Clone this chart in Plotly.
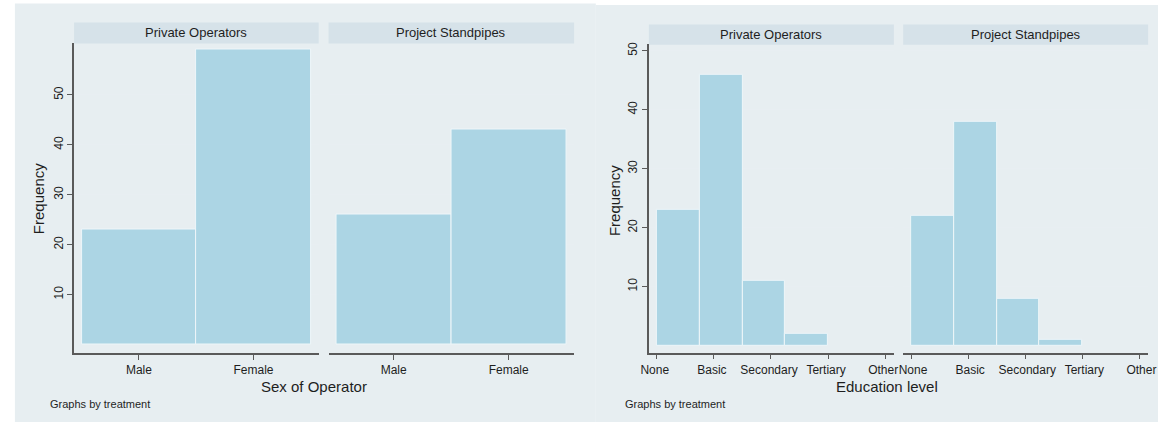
import plotly.graph_objects as go

# ---- data -------------------------------------------------------------
panel_titles = ["Private Operators", "Project Standpipes"]

sex_labels = ["Male", "Female"]
sex_codes = [0, 1]
sex_private = [23, 59]
sex_standpipes = [26, 43]

edu_labels = ["None", "Basic", "Secondary", "Tertiary", "Other"]
edu_codes = [1, 2, 3, 4, 5]
edu_bin_edges = [1.0, 1.75, 2.5, 3.25, 4.0]
edu_private = [23, 46, 11, 2]
edu_standpipes = [22, 38, 8, 1]

freq_ticks = [10, 20, 30, 40, 50]

# ---- styling ----------------------------------------------------------
W, H = 1166, 423
BG = "#e7eef1"
STRIP = "#d6e2e9"
BAR = "#acd5e4"
BAR_EDGE = "#eef6f9"
AXIS = "#5a5a5a"
GRID = "#e8eef2"
FONT = "Liberation Sans, Arial, sans-serif"
TXT = "#1e1e1e"


def px_x(v):
    return v / W


def px_y(v):
    return 1 - v / H


fig = go.Figure()

edu_centers = [(a + b) / 2 for a, b in zip(edu_bin_edges[:-1], edu_bin_edges[1:])]
edu_widths = [b - a for a, b in zip(edu_bin_edges[:-1], edu_bin_edges[1:])]

traces = [
    ("x", "y", sex_codes, sex_private, [1] * len(sex_codes)),
    ("x2", "y2", sex_codes, sex_standpipes, [1] * len(sex_codes)),
    ("x3", "y3", edu_centers, edu_private, edu_widths),
    ("x4", "y4", edu_centers, edu_standpipes, edu_widths),
]
for xa, ya, xs, ys, ws in traces:
    fig.add_trace(go.Bar(
        x=xs, y=ys, width=ws, xaxis=xa, yaxis=ya,
        marker=dict(color=BAR, line=dict(color=BAR_EDGE, width=1)),
        showlegend=False, hoverinfo="x+y",
    ))

# panel geometry in pixels: (left, right, top, bottom)
panels = {
    1: (67, 315, 40.7, 353),
    2: (325, 574, 40.7, 353),
    3: (649.8, 898.2, 42, 352.3),
    4: (907.6, 1156, 42, 352.3),
}
# the two education panels sit close together, so their end labels are
# nudged apart a little
label_shift = {1: 0, 2: 0, 3: -2, 4: 2}

tickfont = dict(family=FONT, size=12, color=TXT)
layout_axes = {}
for i, (l, r, t, b) in panels.items():
    sfx = "" if i == 1 else str(i)
    if i <= 2:
        xr = [-0.566, 1.569]
        xtv, xtt = sex_codes, sex_labels
        yr = [-1.75, 60.5]
    else:
        xr = [0.862, 5.152]
        xtv, xtt = edu_codes, edu_labels
        yr = [-1.19, 51.18]
    first = i in (1, 3)
    layout_axes["xaxis" + sfx] = dict(
        domain=[px_x(l), px_x(r)], anchor="y" + sfx, range=xr,
        tickvals=xtv, ticktext=xtt, ticks="outside", ticklen=5,
        tickwidth=1.2, tickcolor=AXIS, showline=True, linecolor=AXIS,
        linewidth=1.5, showgrid=False, zeroline=False, tickfont=tickfont,
        ticklabelshift=label_shift[i], fixedrange=True,
    )
    layout_axes["yaxis" + sfx] = dict(
        domain=[px_y(b), px_y(t)], anchor="x" + sfx, range=yr,
        tickvals=freq_ticks, ticks="outside" if first else "", ticklen=5,
        tickwidth=1.2, tickcolor=AXIS, showticklabels=first,
        tickangle=-90, showline=first, linecolor=AXIS, linewidth=1.5,
        showgrid=True, gridcolor=GRID, gridwidth=1, zeroline=False,
        tickfont=tickfont, fixedrange=True,
    )

shapes = [
    # graph backgrounds
    dict(type="rect", xref="paper", yref="paper", x0=px_x(7), x1=px_x(596),
         y0=px_y(422), y1=px_y(1.5), fillcolor=BG, line=dict(width=0), layer="below"),
    dict(type="rect", xref="paper", yref="paper", x0=px_x(596), x1=1,
         y0=px_y(422), y1=px_y(3), fillcolor=BG, line=dict(width=0), layer="below"),
]
annotations = []

# panel header strips, tucked right onto the top of each plot area
headers = {1: (20.7, 40.7), 2: (20.7, 40.7), 3: (22.7, 42), 4: (22.7, 42)}
for i, (l, r, t, b) in panels.items():
    ht, hb = headers[i]
    shapes.append(dict(type="rect", xref="paper", yref="paper",
                       x0=px_x(l), x1=px_x(r), y0=px_y(hb + 1), y1=px_y(ht),
                       fillcolor=STRIP, line=dict(width=0), layer="below"))
    annotations.append(dict(
        text=panel_titles[(i - 1) % 2], xref="paper", yref="paper",
        x=px_x((l + r) / 2), y=px_y((ht + hb) / 2), showarrow=False,
        xanchor="center", yanchor="middle",
        font=dict(family=FONT, size=13, color=TXT)))

# axis titles and notes
for txt, x, y in [("Sex of Operator", 310, 386.5), ("Education level", 891.5, 386.5)]:
    annotations.append(dict(text=txt, xref="paper", yref="paper", x=px_x(x), y=px_y(y),
                            showarrow=False, xanchor="center", yanchor="middle",
                            font=dict(family=FONT, size=15, color=TXT)))
for x, y in [(30.5, 198), (614.5, 200)]:
    annotations.append(dict(text="Frequency", xref="paper", yref="paper", x=px_x(x), y=px_y(y),
                            showarrow=False, xanchor="center", yanchor="middle", textangle=-90,
                            font=dict(family=FONT, size=15, color=TXT)))
for x in [41, 623.5]:
    annotations.append(dict(text="Graphs by treatment", xref="paper", yref="paper",
                            x=px_x(x), y=px_y(404), showarrow=False,
                            xanchor="left", yanchor="middle",
                            font=dict(family=FONT, size=11, color=TXT)))

fig.update_layout(
    width=W, height=H, margin=dict(l=0, r=0, t=0, b=0),
    paper_bgcolor="white", plot_bgcolor="white",
    bargap=0, shapes=shapes, annotations=annotations,
    font=dict(family=FONT, color=TXT),
    **layout_axes,
)

fig.write_html("out.html", config={"displayModeBar": False})
